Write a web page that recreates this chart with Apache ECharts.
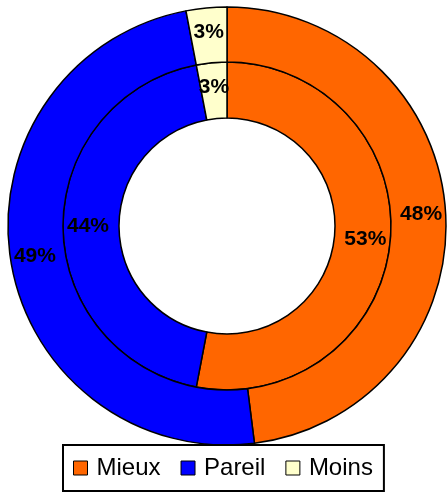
<!DOCTYPE html>
<html>
<head>
<meta charset="utf-8">
<script src="https://cdn.jsdelivr.net/npm/echarts@6/dist/echarts.min.js"></script>
<style>
html,body{margin:0;padding:0;background:#fff;}
#chart{width:448px;height:492px;}
</style>
</head>
<body>
<div id="chart"></div>
<script>
var categories = ['Mieux', 'Pareil', 'Moins'];
var innerValues = [53, 44, 3];
var outerValues = [48, 49, 3];
var colors = ['#FF6600', '#0000FF', '#FFFFCC'];

function build(values) {
  return categories.map(function (c, i) {
    return { name: c, value: values[i], itemStyle: { color: colors[i] } };
  });
}

var labelStyle = {
  show: true,
  position: 'inside',
  formatter: '{c}%',
  color: '#000',
  fontFamily: 'Arial, "Liberation Sans", sans-serif',
  fontWeight: 'bold',
  fontSize: 21
};

var chart = echarts.init(document.getElementById('chart'), null, { renderer: 'canvas' });
chart.setOption({
  animation: false,
  backgroundColor: '#fff',
  legend: {
    data: categories,
    left: 63,
    top: 445,
    orient: 'horizontal',
    padding: [11, 11, 11, 10],
    borderColor: '#000',
    borderWidth: 2,
    itemWidth: 14,
    itemHeight: 14,
    itemGap: 20,
    icon: 'rect',
    itemStyle: { borderColor: '#000', borderWidth: 1 },
    textStyle: {
      fontFamily: 'Arial, "Liberation Sans", sans-serif',
      fontSize: 24,
      color: '#000',
      padding: [0, 0, 0, 4]
    }
  },
  series: [
    {
      type: 'pie',
      center: [227, 226],
      radius: [108, 164],
      startAngle: 90,
      clockwise: true,
      avoidLabelOverlap: false,
      label: labelStyle,
      labelLine: { show: false },
      emphasis: { disabled: true },
      itemStyle: { borderColor: '#000', borderWidth: 1.5 },
      data: build(innerValues)
    },
    {
      type: 'pie',
      center: [227, 226],
      radius: [164, 219],
      startAngle: 90,
      clockwise: true,
      avoidLabelOverlap: false,
      label: labelStyle,
      labelLine: { show: false },
      emphasis: { disabled: true },
      itemStyle: { borderColor: '#000', borderWidth: 1.5 },
      data: build(outerValues)
    }
  ]
});
</script>
</body>
</html>
